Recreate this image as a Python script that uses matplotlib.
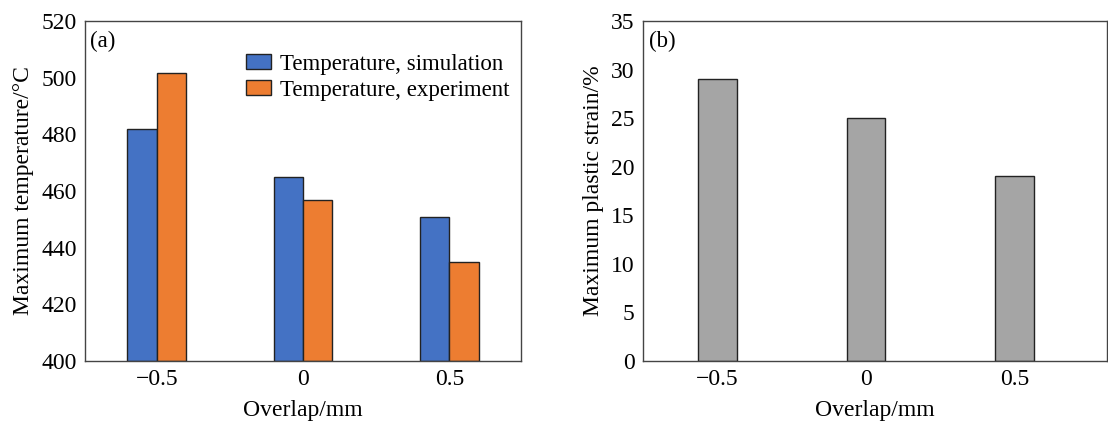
import matplotlib.pyplot as plt
import numpy as np

plt.rcParams['font.family'] = ['Liberation Serif', 'DejaVu Serif']
plt.rcParams['axes.unicode_minus'] = True

overlap = ['\u22120.5', '0', '0.5']
temp_sim = [482, 465, 451]
temp_exp = [501.5, 457, 435]
strain = [29, 25, 19]

fig = plt.figure(figsize=(11.08, 4.21), dpi=100)
ax1 = fig.add_axes([85 / 1108, 60 / 421, 436 / 1108, 340 / 421])
ax2 = fig.add_axes([643 / 1108, 60 / 421, 464 / 1108, 340 / 421])

x = np.arange(len(overlap))
w = 0.2
ax1.bar(x - w / 2, [t - 400 for t in temp_sim], w, bottom=400, color='#4472C4',
        edgecolor='#222222', linewidth=1, label='Temperature, simulation')
ax1.bar(x + w / 2, [t - 400 for t in temp_exp], w, bottom=400, color='#ED7D31',
        edgecolor='#222222', linewidth=1, label='Temperature, experiment')
ax1.set_ylim(400, 520)
ax1.set_xlim(-0.49, 2.49)
ax1.set_xticks(x)
ax1.set_xticklabels(overlap)
ax1.set_yticks(range(400, 521, 20))
ax1.set_xlabel('Overlap/mm', fontsize=17, labelpad=7)
ax1.set_ylabel('Maximum temperature/\u00b0C', fontsize=17, labelpad=5)
ax1.text(0.012, 0.97, '(a)', transform=ax1.transAxes, fontsize=16.5, va='top')
ax1.legend(loc='upper right', frameon=False, fontsize=16.5, handlelength=1.1,
           handleheight=0.62, handletextpad=0.4, labelspacing=0.2,
           borderaxespad=0.0, bbox_to_anchor=(0.995, 0.93))

ax2.bar(x, strain, 0.26, color='#A5A5A5', edgecolor='#222222', linewidth=1)
ax2.set_ylim(0, 35)
ax2.set_xlim(-0.5, 2.62)
ax2.set_xticks(x)
ax2.set_xticklabels(overlap)
ax2.set_yticks(range(0, 36, 5))
ax2.set_xlabel('Overlap/mm', fontsize=17, labelpad=7)
ax2.set_ylabel('Maximum plastic strain/%', fontsize=17, labelpad=5)
ax2.text(0.012, 0.97, '(b)', transform=ax2.transAxes, fontsize=16.5, va='top')

for ax in (ax1, ax2):
    ax.tick_params(length=0, labelsize=17, pad=6)
    for s in ax.spines.values():
        s.set_color('#444444')
        s.set_linewidth(1)

fig.savefig('out.png', dpi=100)
